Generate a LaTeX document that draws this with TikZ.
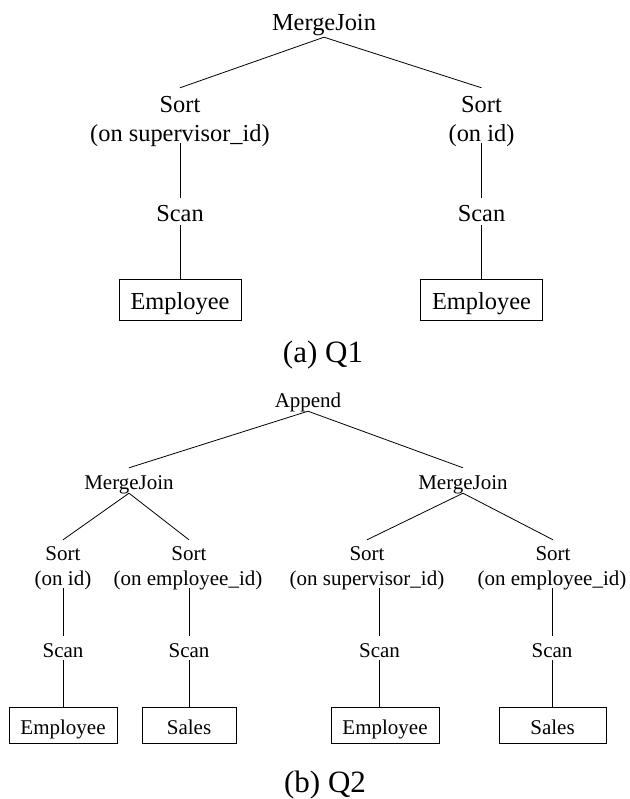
\documentclass[tikz,border=0pt]{standalone}
\usepackage{fontspec}
\setmainfont{Liberation Serif}
\begin{document}
\begin{tikzpicture}[x=1pt,y=-1pt,
  big/.style={font=\fontsize{24.4}{29}\selectfont},
  small/.style={font=\fontsize{21}{25}\selectfont},
  capt/.style={font=\fontsize{31}{37}\selectfont},
  lbl/.style={inner sep=0pt, anchor=base},
  rel/.style={draw, line width=1pt, inner sep=0pt, anchor=base},
  edge/.style={line width=0.8pt}]
\useasboundingbox (0,0) rectangle (629,799);

% ---- plan for Q1 ----
\node[lbl,big,text depth=6pt] (mj) at (324,31) {MergeJoin};
\node[lbl,big,text height=25pt] (s1) at (180,113) {Sort};
\node[lbl,big,text depth=1pt] (o1) at (180,142) {(on supervisor\_id)};
\node[lbl,big,text height=24pt,text depth=3pt] (c1) at (180,222) {Scan};
\node[rel,big,minimum width=122pt,text height=30pt,text depth=11pt] (e1) at (180,309.5) {Employee};

\node[lbl,big,text height=25pt] (s2) at (481.5,113) {Sort};
\node[lbl,big,text depth=1pt] (o2) at (481.5,142) {(on id)};
\node[lbl,big,text height=24pt,text depth=3pt] (c2) at (481.5,222) {Scan};
\node[rel,big,minimum width=122pt,text height=30pt,text depth=11pt] (e2) at (481.5,309.5) {Employee};

\draw[edge] (mj.south) -- (s1.north);
\draw[edge] (mj.south) -- (s2.north);
\foreach \c/\o/\e in {c1/o1/e1, c2/o2/e2} {
  \draw[edge] (\c.north) -- (\c.north |- \o.south);
  \draw[edge] (\c.south) -- (\c.south |- \e.north);
}
\node[lbl,capt] (qa) at (323,362.5) {(a) Q1};

% ---- plan for Q2 ----
\node[lbl,small,text depth=4pt] (ap) at (308,407) {Append};
\node[lbl,small,text height=21pt,text depth=4pt] (m1) at (129,489) {MergeJoin};
\node[lbl,small,text height=21pt,text depth=4pt] (m2) at (463,489) {MergeJoin};

\node[lbl,small,text height=20pt] (t1) at (63,560) {Sort};
\node[lbl,small,text height=20pt] (t2) at (189,560) {Sort};
\node[lbl,small,text height=20pt] (t3) at (367,560) {Sort};
\node[lbl,small,text height=20pt] (t4) at (553,560) {Sort};

\node[lbl,small,text depth=3pt] (a1) at (63,585) {(on id)};
\node[lbl,small,text depth=3pt] (a2) at (188,585) {(on employee\_id)};
\node[lbl,small,text depth=3pt] (a3) at (367,585) {(on supervisor\_id)};
\node[lbl,small,text depth=3pt] (a4) at (552,585) {(on employee\_id)};

\node[lbl,small,text height=21pt,text depth=3pt] (k1) at (63,657) {Scan};
\node[lbl,small,text height=21pt,text depth=3pt] (k2) at (189,657) {Scan};
\node[lbl,small,text height=21pt,text depth=3pt] (k3) at (379.5,657) {Scan};
\node[lbl,small,text height=21pt,text depth=3pt] (k4) at (552,657) {Scan};

\node[rel,small,minimum width=108pt,text height=27pt,text depth=9pt] (b1) at (63,734) {Employee};
\node[rel,small,minimum width=94pt,text height=27pt,text depth=9pt] (b2) at (189,734) {Sales};
\node[rel,small,minimum width=108pt,text height=27pt,text depth=9pt] (b3) at (385,734) {Employee};
\node[rel,small,minimum width=107pt,text height=27pt,text depth=9pt] (b4) at (552.5,734) {Sales};

\draw[edge] (ap.south) -- (m1.north);
\draw[edge] (ap.south) -- (m2.north);
\draw[edge] (m1.south) -- (t1.north);
\draw[edge] (m1.south) -- (t2.north);
\draw[edge] (m2.south) -- (t3.north);
\draw[edge] (m2.south) -- (t4.north);
\foreach \k/\a/\b in {k1/a1/b1, k2/a2/b2, k3/a3/b3, k4/a4/b4} {
  \draw[edge] (\k.north) -- (\k.north |- \a.south);
  \draw[edge] (\k.south) -- (\k.south |- \b.north);
}
\node[lbl,capt] (qb) at (325,792.5) {(b) Q2};
\end{tikzpicture}
\end{document}
